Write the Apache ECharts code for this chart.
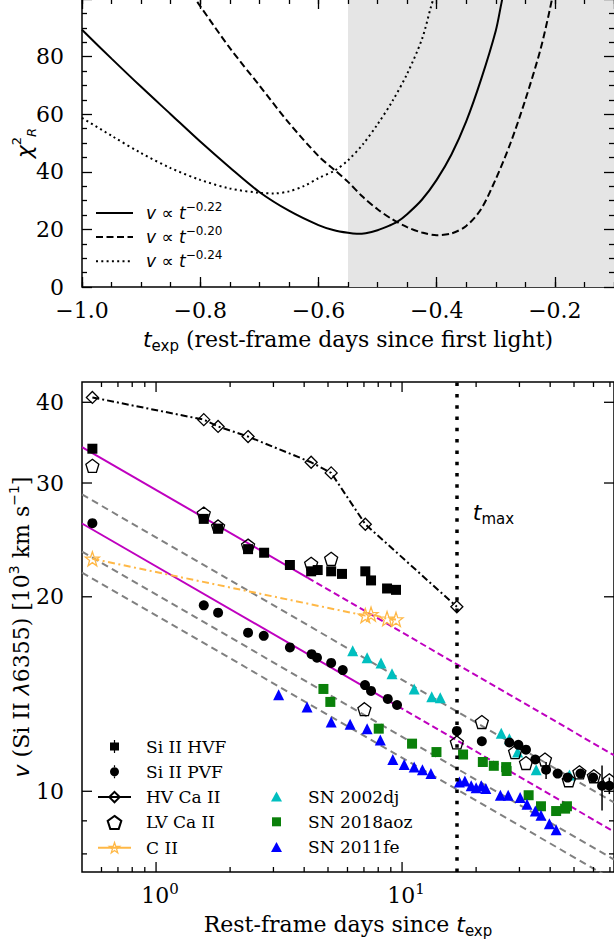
<!DOCTYPE html>
<html><head><meta charset="utf-8">
<script src="https://cdn.jsdelivr.net/npm/echarts@6/dist/echarts.min.js"></script>
<style>html,body{margin:0;padding:0;background:#fff}#c{width:614px;height:944px}</style>
</head><body><div id="c"></div>
<script>
// ---------------- Top panel: reduced chi^2 vs t_exp ----------------
const texpSolid  = [-1.0,-0.95,-0.9,-0.85,-0.8,-0.75,-0.7,-0.65,-0.6,-0.575,-0.55,-0.535,-0.52,-0.5,-0.48,-0.467,-0.45,-0.425,-0.4,-0.375,-0.35,-0.325,-0.3,-0.29,-0.28];
const chi2Solid  = [89.3,79.3,69.5,60,50.5,41.5,33,26.5,21.5,19.8,18.8,18.5,18.7,19.7,21.3,22.6,25.3,30.3,37.2,46,57.5,72,89,99,108];
const texpDashed = [-0.815,-0.8,-0.75,-0.7,-0.65,-0.6,-0.572,-0.55,-0.525,-0.5,-0.475,-0.45,-0.425,-0.4,-0.375,-0.35,-0.325,-0.3,-0.275,-0.25,-0.225,-0.21,-0.2];
const chi2Dashed = [102,97.5,83,70,57,45.5,40.5,36.5,31.3,27,23.5,20.8,18.9,18,18.6,21.2,27,37.5,50,65,82,95,105];
const texpDotted = [-1.0,-0.95,-0.9,-0.85,-0.8,-0.75,-0.7,-0.675,-0.65,-0.625,-0.6,-0.572,-0.55,-0.525,-0.5,-0.475,-0.45,-0.425,-0.41,-0.4];
const chi2Dotted = [58.7,52.5,46.5,41.3,37.2,34.2,32.7,32.5,33.2,35,37.8,40.5,44,49.5,56.5,64.5,74,86,97,104];
const topLegendNames = ['p22','p20','p24'];
const topLegendExps  = ['\u22120.22','\u22120.20','\u22120.24'];
const shadeStart = -0.55, shadeEnd = -0.1;

// ---------------- Bottom panel: velocities ----------------
const hvfT = [0.551,1.563,1.787,2.366,2.75,3.50,4.27,4.54,5.15,5.70,7.09,7.48,8.69,9.45];
const hvfV = [33.9,26.4,25.5,23.7,23.4,22.4,21.9,22.0,21.9,21.7,21.9,21.2,20.6,20.5];
const pvfT = [0.551,1.563,1.787,2.366,2.74,3.50,4.29,4.51,5.15,5.74,7.07,7.48,8.75,9.54,16.7,21.1,27.3,29.7,31.9,34.8,38.5,42.9,47.1,53.1,59.8,65.0,69.6];
const pvfV = [26.0,19.4,18.9,17.6,17.4,16.7,16.3,16.1,15.8,15.4,14.6,14.3,13.9,13.6,12.4,11.95,11.9,11.8,11.6,11.2,10.8,10.65,10.5,10.65,10.5,10.2,10.2];
const pvfErrT  = [38.5,65.0,69.6];
const pvfErrLo = [10.45,9.34,9.9];
const pvfErrHi = [11.1,10.96,10.5];
const hvCaT = [0.551,1.563,1.787,2.366,4.27,5.15,7.09,16.7];
const hvCaV = [40.7,37.6,36.7,35.4,32.3,31.1,25.9,19.3];
const lvCaT = [0.551,1.563,1.787,2.366,4.27,5.15,7.03,16.7,21.1,28.8,31.9,38.1,47.6,52.6,60.2,69.6];
const lvCaV = [31.9,26.9,25.7,24.0,22.5,22.9,13.4,11.9,12.8,11.5,11.06,11.2,10.4,10.7,10.55,10.4];
const ciiT = [0.551,7.09,7.48,8.69,9.45];
const ciiV = [22.9,18.7,18.8,18.5,18.45];
const dj02T = [6.30,7.21,8.21,9.10,11.2,13.2,14.3,25.3,27.3,29.5,35.1,47.9];
const dj02V = [16.5,16.1,15.8,15.2,14.4,14.0,13.96,12.3,12.06,11.5,10.8,10.6];
const aoz18T = [4.79,5.11,8.04,10.98,13.8,17.7,21.3,23.6,26.5,26.6,32.7,36.7,42.3,46.0,46.8];
const aoz18V = [14.4,13.75,12.5,11.85,11.5,11.4,11.1,10.95,10.9,10.75,9.86,9.48,9.32,9.40,9.48];
const fe11T = [3.15,4.11,5.15,6.15,7.21,8.16,9.17,10.2,11.2,12.1,13.1,17.1,18.0,19.1,20.0,21.0,21.9,25.1,27.0,30.2,32.2,34.8,36.7,39.7,42.3];
const fe11V = [14.1,13.5,12.8,12.7,12.5,12.0,11.2,11.0,10.9,10.8,10.65,10.34,10.37,10.2,10.13,10.2,10.1,9.86,9.86,9.78,9.55,9.32,9.18,8.91,8.72];
// power-law fit lines (end points)
const fitUpSolidT = [0.5,4.14],  fitUpSolidV = [34.1,21.4];
const fitUpDashT  = [4.14,72.7], fitUpDashV  = [21.4,11.37];
const fitLoSolidT = [0.5,9.6],   fitLoSolidV = [25.97,13.55];
const fitLoDashT  = [9.6,72.7],  fitLoDashV  = [13.55,8.66];
const gray1T = [0.5,72.7], gray1V = [28.8,9.61];
const gray2T = [0.5,72.7], gray2V = [23.5,7.84];
const gray3T = [0.5,72.7], gray3V = [21.8,7.28];
const tMax = 16.7;
// tick positions of the log axes
const xMajorTicks = [1,10];
const xMinorTicks = [0.6,0.7,0.8,0.9,2,3,4,5,6,7,8,9,20,30,40,50,60,70];
const yLabelTicks = [10,20,30,40];
const yMinorTicks = [8,9];

const SERIF = '"DejaVu Serif", serif';
const SANS = '"DejaVu Sans", sans-serif';
const zip = (a,b) => a.map((x,i)=>[x,b[i]]);
const TICK = {color:'#000', width:1.3};
const pentagon = 'path://M0,-10L9.511,-3.09L5.878,8.09L-5.878,8.09L-9.511,-3.09Z';
const star = 'path://M0,-10L2.351,-3.236L9.511,-3.09L3.804,1.236L5.878,8.09L0,4L-5.878,8.09L-3.804,1.236L-9.511,-3.09L-2.351,-3.236Z';
const OPEN = 'rgba(255,255,255,0)';
const CYAN = '#00bfbf', GREEN = '#0a800a', BLUE = '#0000ff', ORANGE = '#ffb846', MAG = '#bf00bf';
const mathRich = {
  n:{fontFamily:SERIF,fontSize:22,color:'#000',lineHeight:28},
  it:{fontFamily:SANS,fontStyle:'italic',fontSize:22,color:'#000',lineHeight:28},
  sub:{fontFamily:SANS,fontSize:15,color:'#000',verticalAlign:'bottom'},
  sup:{fontFamily:SANS,fontSize:14,color:'#000',verticalAlign:'top'}
};

const topX = (pos, interval, len, labels) => ({
  gridIndex:0, type:'value', min:-1, max:-0.1, interval, position:pos, z:10,
  axisLine:{show:false}, splitLine:{show:false},
  axisTick:{show:true, inside:true, length:len, lineStyle:TICK},
  axisLabel:{show:labels, fontFamily:SERIF, fontSize:22, color:'#000', margin:12, showMaxLabel:false,
    formatter:v=>(v<0?'\u2212':'')+Math.abs(v).toFixed(1)}
});
const topY = (pos, labels) => ({
  gridIndex:0, type:'value', min:0, max:100, interval:20, position:pos, z:10,
  axisLine:{show:false}, splitLine:{show:false},
  axisTick:{show:true, inside:true, length:10, lineStyle:TICK},
  minorTick:{show:true, splitNumber:4, length:5, lineStyle:TICK},
  axisLabel:{show:labels, fontFamily:SERIF, fontSize:22, color:'#000', margin:18, showMaxLabel:false}
});

function xTickItem(params, api){
  const cs = params.coordSys;
  const v = api.value(0), major = api.value(2) === 2;
  const px = api.coord([v, 10])[0];
  const len = major ? 10 : 5, bot = cs.y + cs.height, top = cs.y;
  const ch = [
    {type:'line', shape:{x1:px,y1:bot,x2:px,y2:bot-len}, style:{stroke:'#000',lineWidth:1.3}},
    {type:'line', shape:{x1:px,y1:top,x2:px,y2:top+len}, style:{stroke:'#000',lineWidth:1.3}}
  ];
  if (major) {
    const e = Math.round(Math.log10(v));
    ch.push({type:'text', style:{text:'{b|10}{s|'+e+'}', x:px+4, y:bot+9, align:'center', verticalAlign:'top',
      rich:{b:{fontFamily:SERIF,fontSize:22,fill:'#000',lineHeight:28}, s:{fontFamily:SERIF,fontSize:15,fill:'#000',verticalAlign:'top'}}}});
  }
  return {type:'group', children:ch};
}
function yTickItem(params, api){
  const cs = params.coordSys;
  const v = api.value(1), major = api.value(2) === 2;
  const py = api.coord([1, v])[1];
  const len = major ? 10 : 5, l = cs.x, r = cs.x + cs.width;
  const ch = [
    {type:'line', shape:{x1:l,y1:py,x2:l+len,y2:py}, style:{stroke:'#000',lineWidth:1.3}},
    {type:'line', shape:{x1:r,y1:py,x2:r-len,y2:py}, style:{stroke:'#000',lineWidth:1.3}}
  ];
  if (major) ch.push({type:'text', style:{text:String(v), x:l-18, y:py, align:'right', verticalAlign:'middle',
      font:'22px '+SERIF, fill:'#000'}});
  return {type:'group', children:ch};
}

const B = {xAxisIndex:4, yAxisIndex:2};
const fitLine = (t,v,color,type) => Object.assign({type:'line', data:zip(t,v), symbol:'none', silent:true, z:2,
  lineStyle:{color, width:2, type}}, B);
// legend icons drawn in a 33 x 13 frame (corner move-tos fix the frame size)
const FRAME = 'M0,0M33,13';
const iconHVF = 'path://'+FRAME+'M15.9,0h1.2v2.5h-1.2zM12,2.5h9v8h-9zM15.9,10.5h1.2v2.5h-1.2z';
const iconPVF = 'path://'+FRAME+'M15.9,0h1.2v2.3h-1.2zM12,6.5a4.5,4.5 0 1 0 9,0a4.5,4.5 0 1 0 -9,0zM15.9,10.7h1.2v2.3h-1.2z';
const iconTri = 'path://'+FRAME+'M16.5,1.5L22,11.5L11,11.5Z';
const iconSq  = 'path://'+FRAME+'M12,2h9v9h-9z';

const option = {
  animation:false,
  backgroundColor:'#fff',
  grid:[
    {left:82, top:-1, width:532, height:288, show:true, borderColor:'#000', borderWidth:1.5, backgroundColor:'transparent',
      containLabel:false, outerBoundsMode:'none'},
    {left:82, top:382, width:532, height:490, show:true, borderColor:'#000', borderWidth:1.5, backgroundColor:'transparent',
      containLabel:false, outerBoundsMode:'none'}
  ],
  xAxis:[
    Object.assign(topX('bottom',0.2,10,true), {
      name:'{it|t}{sub|exp}{n| (rest-frame days since first light)}', nameLocation:'middle', nameGap:38,
      nameMoveOverlap:false, nameTextStyle:{rich:mathRich}}),
    topX('bottom',0.05,5,false),
    topX('top',0.2,10,false),
    topX('top',0.05,5,false),
    {gridIndex:1, type:'log', logBase:10, min:0.5, max:72.7,
      axisLine:{show:false}, axisTick:{show:false}, axisLabel:{show:false}, splitLine:{show:false},
      name:'{n|Rest-frame days since }{it|t}{sub|exp}', nameLocation:'middle', nameGap:38, nameMoveOverlap:false,
      nameTextStyle:{rich:mathRich}}
  ],
  yAxis:[
    Object.assign(topY('left',true), {
      name:'{c|\u03c7}{sup|2}{sub|R}', nameLocation:'middle', nameGap:44, nameRotate:90, nameMoveOverlap:false,
      nameTextStyle:{rich:{c:{fontFamily:SANS,fontStyle:'italic',fontSize:22,color:'#000',lineHeight:28},
        sup:{fontFamily:SANS,fontSize:13,color:'#000',verticalAlign:'top'},
        sub:{fontFamily:SANS,fontStyle:'italic',fontSize:13,color:'#000',verticalAlign:'bottom'}}}}),
    topY('right',false),
    {gridIndex:1, type:'log', logBase:10, min:7.5, max:43,
      axisLine:{show:false}, axisTick:{show:false}, axisLabel:{show:false}, splitLine:{show:false},
      name:'{it|v}{n| (Si II }{it|\u03bb}{n|6355) [10}{sup|3}{n| km s}{sup|\u22121}{n|]}',
      nameLocation:'middle', nameGap:47, nameRotate:90, nameMoveOverlap:false, nameTextStyle:{rich:mathRich}}
  ],
  legend:[
    {data:topLegendNames, orient:'vertical', left:95, top:201, padding:0, itemGap:3.3,
      itemWidth:37, itemHeight:22, selectedMode:false, itemStyle:{opacity:0},
      formatter:n=>'{i|v}{n| \u221d }{i|t}{s|'+topLegendExps[topLegendNames.indexOf(n)]+'}',
      textStyle:{padding:[0,0,0,8], rich:{
        i:{fontFamily:SANS,fontStyle:'italic',fontSize:17,color:'#000',lineHeight:24},
        n:{fontFamily:SANS,fontSize:17,color:'#000',lineHeight:24},
        s:{fontFamily:SANS,fontSize:12,color:'#000',verticalAlign:'top'}}}},
    {data:[
        {name:'Si II HVF', icon:iconHVF, itemStyle:{color:'#000', opacity:1}},
        {name:'Si II PVF', icon:iconPVF, itemStyle:{color:'#000', opacity:1}},
        {name:'HV Ca II', lineStyle:{type:'solid', width:2}},
        {name:'LV Ca II'},
        {name:'C II', lineStyle:{type:'solid', width:2}, itemStyle:{color:OPEN, borderColor:ORANGE, borderWidth:1.3}}],
      orient:'vertical', left:97, top:736.5, padding:0, itemGap:5.3, itemWidth:33, itemHeight:13, selectedMode:false,
      textStyle:{fontFamily:SERIF, fontSize:17, color:'#000', lineHeight:20, padding:[0,0,0,10]}},
    {data:[
        {name:'SN 2002dj', icon:iconTri, itemStyle:{color:CYAN, opacity:1}},
        {name:'SN 2018aoz', icon:iconSq, itemStyle:{color:GREEN, opacity:1}},
        {name:'SN 2011fe', icon:iconTri, itemStyle:{color:BLUE, opacity:1}}],
      orient:'vertical', left:260, top:786.5, padding:0, itemGap:5.3, itemWidth:33, itemHeight:13, selectedMode:false,
      textStyle:{fontFamily:SERIF, fontSize:17, color:'#000', lineHeight:20, padding:[0,0,0,10]}}
  ],
  series:[
    // ---- top panel ----
    {type:'line', xAxisIndex:0, yAxisIndex:0, data:[], z:1, silent:true,
      markArea:{silent:true, itemStyle:{color:'#e5e5e5'}, data:[[{xAxis:shadeStart},{xAxis:shadeEnd}]]}},
    {type:'line', name:'p22', xAxisIndex:0, yAxisIndex:0, data:zip(texpSolid,chi2Solid), symbol:'none', smooth:0.3, z:3,
      lineStyle:{color:'#000', width:2}, itemStyle:{color:'#000'}},
    {type:'line', name:'p20', xAxisIndex:0, yAxisIndex:0, data:zip(texpDashed,chi2Dashed), symbol:'none', smooth:0.3, z:3,
      lineStyle:{color:'#000', width:2, type:[7,3.5]}, itemStyle:{color:'#000'}},
    {type:'line', name:'p24', xAxisIndex:0, yAxisIndex:0, data:zip(texpDotted,chi2Dotted), symbol:'none', smooth:0.3, z:3,
      lineStyle:{color:'#000', width:2, type:[2,3.3]}, itemStyle:{color:'#000'}},
    // ---- bottom panel ----
    fitLine(gray1T,gray1V,'#808080',[7,4.5]),
    fitLine(gray2T,gray2V,'#808080',[7,4.5]),
    fitLine(gray3T,gray3V,'#808080',[7,4.5]),
    fitLine(fitUpSolidT,fitUpSolidV,MAG,'solid'),
    fitLine(fitUpDashT,fitUpDashV,MAG,[6.5,3.5]),
    fitLine(fitLoSolidT,fitLoSolidV,MAG,'solid'),
    fitLine(fitLoDashT,fitLoDashV,MAG,[6.5,3.5]),
    Object.assign({type:'scatter', name:'SN 2002dj', data:zip(dj02T,dj02V), symbol:'triangle', symbolSize:11, z:3,
      itemStyle:{color:CYAN, opacity:1}}, B),
    Object.assign({type:'scatter', name:'SN 2018aoz', data:zip(aoz18T,aoz18V), symbol:'rect', symbolSize:10, z:3,
      itemStyle:{color:GREEN, opacity:1}}, B),
    Object.assign({type:'scatter', name:'SN 2011fe', data:zip(fe11T,fe11V), symbol:'triangle', symbolSize:11, z:3,
      itemStyle:{color:BLUE, opacity:1}}, B),
    Object.assign({type:'line', name:'C II', data:zip(ciiT,ciiV), symbol:star, symbolSize:14, showAllSymbol:true, z:4,
      lineStyle:{color:ORANGE, width:2, type:[7,3.5,2,3.5]},
      itemStyle:{color:OPEN, borderColor:ORANGE, borderWidth:1.3}}, B),
    Object.assign({type:'line', name:'HV Ca II', data:zip(hvCaT,hvCaV), symbol:'diamond', symbolSize:12, showAllSymbol:true, z:4,
      lineStyle:{color:'#000', width:2, type:[7,3,2,3]},
      itemStyle:{color:OPEN, borderColor:'#000', borderWidth:1.3},
      markLine:{silent:true, symbol:['none','none'], label:{show:false},
        lineStyle:{color:'#000', width:3.5, type:[3.5,7.8]}, data:[{xAxis:tMax}]},
      markPoint:{silent:true, symbol:'circle', symbolSize:0, data:[{coord:[19.4,27.0]}],
        label:{show:true, position:'inside', align:'left', verticalAlign:'middle', formatter:'{t|t}{s|max}',
          rich:{t:{fontFamily:SANS,fontStyle:'italic',fontSize:22,color:'#000',lineHeight:28},
                s:{fontFamily:SANS,fontSize:15,color:'#000',verticalAlign:'bottom'}}}}}, B),
    Object.assign({type:'scatter', name:'Si II HVF', data:zip(hvfT,hvfV), symbol:'rect', symbolSize:10, z:5,
      itemStyle:{color:'#000', opacity:1}}, B),
    Object.assign({type:'scatter', name:'Si II PVF', data:zip(pvfT,pvfV), symbol:'circle', symbolSize:10, z:5,
      itemStyle:{color:'#000', opacity:1}}, B),
    Object.assign({type:'custom', name:'pvfErr', data:pvfErrT.map((t,i)=>[t,pvfErrLo[i],pvfErrHi[i]]), encode:{x:0,y:[1,2]}, z:5,
      renderItem:(p,api)=>{const a=api.coord([api.value(0),api.value(1)]), b=api.coord([api.value(0),api.value(2)]);
        return {type:'line', shape:{x1:a[0],y1:a[1],x2:b[0],y2:b[1]}, style:{stroke:'#000',lineWidth:1.5}};}}, B),
    Object.assign({type:'scatter', name:'LV Ca II', data:zip(lvCaT,lvCaV), symbol:pentagon, symbolSize:13, z:6,
      itemStyle:{color:OPEN, borderColor:'#000', borderWidth:1.3, opacity:1}}, B),
    // axis ticks and tick labels of the log-log panel
    Object.assign({type:'custom', silent:true, clip:false, z:10,
      data:xMajorTicks.map(v=>[v,10,2]).concat(xMinorTicks.map(v=>[v,10,1])), encode:{x:0,y:1},
      renderItem:xTickItem}, B),
    Object.assign({type:'custom', silent:true, clip:false, z:10,
      data:yLabelTicks.map(v=>[1,v,2]).concat(yMinorTicks.map(v=>[1,v,1])), encode:{x:0,y:1},
      renderItem:yTickItem}, B)
  ]
};
const chart = echarts.init(document.getElementById('c'), null, {renderer:'svg', width:614, height:944});
chart.setOption(option);
</script>
</body></html>
